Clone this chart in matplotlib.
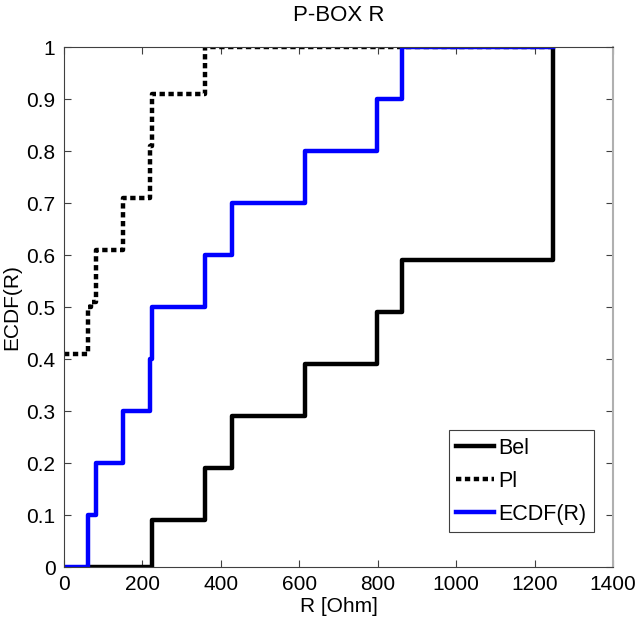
import matplotlib
matplotlib.use("Agg")
import matplotlib.pyplot as plt

plt.rcParams["font.family"] = ["Liberation Sans", "DejaVu Sans"]

# step data
bel_x = [61, 224, 360, 429, 614, 797, 862, 1247]
bel_y = [0.0, 0.09, 0.19, 0.29, 0.39, 0.49, 0.59, 1.0]

pl_x = [0, 61, 69, 83, 151, 219, 224, 361, 1247]
pl_y = [0.41, 0.50, 0.51, 0.61, 0.71, 0.81, 0.91, 1.0, 1.0]

ecdf_x = [0, 61, 83, 151, 219, 224, 361, 429, 614, 797, 862, 1247]
ecdf_y = [0.0, 0.1, 0.2, 0.3, 0.4, 0.5, 0.6, 0.7, 0.8, 0.9, 1.0, 1.0]

xticks = [0, 200, 400, 600, 800, 1000, 1200, 1400]
yticks = [0, 0.1, 0.2, 0.3, 0.4, 0.5, 0.6, 0.7, 0.8, 0.9, 1]
ytick_labels = ["0", "0.1", "0.2", "0.3", "0.4", "0.5", "0.6", "0.7", "0.8", "0.9", "1"]

fig = plt.figure(figsize=(6.38, 6.31), dpi=100)
ax = fig.add_axes([0.100, 0.1014, 0.861, 0.8241])

ax.step(bel_x, bel_y, where="post", color="black", lw=3.2, label="Bel")
ax.step(pl_x, pl_y, where="post", color="black", lw=3.2, ls=(0, (1.2, 0.8)), label="Pl")
ax.step(ecdf_x, ecdf_y, where="post", color="#0000ff", lw=3.2, label="ECDF(R)")

ax.set_xlim(0, 1400)
ax.set_ylim(0, 1)
ax.set_xticks(xticks)
ax.set_yticks(yticks)
ax.set_yticklabels(ytick_labels)
ax.tick_params(direction="in", length=5, width=0.8, labelsize=15, top=True, right=True,
               colors="#404040", labelcolor="black", pad=6)
for s in ["left", "bottom", "top"]:
    ax.spines[s].set_color("#404040")
ax.spines["right"].set_color("#b0b0b0")
ax.spines["right"].set_linewidth(1.5)

ax.set_title("P-BOX R", fontsize=16, pad=19)
ax.set_xlabel("R [Ohm]", fontsize=15, labelpad=2)
ax.set_ylabel("ECDF(R)", fontsize=15, labelpad=4)

leg = ax.legend(loc="lower right", bbox_to_anchor=(0.965, 0.067), fontsize=15.5, fancybox=False,
                framealpha=1, edgecolor="#404040", handlelength=1.75, handletextpad=0.2,
                borderpad=0.35, labelspacing=0.55, borderaxespad=0)
leg.get_frame().set_linewidth(0.8)

fig.savefig("out.png", dpi=100)
